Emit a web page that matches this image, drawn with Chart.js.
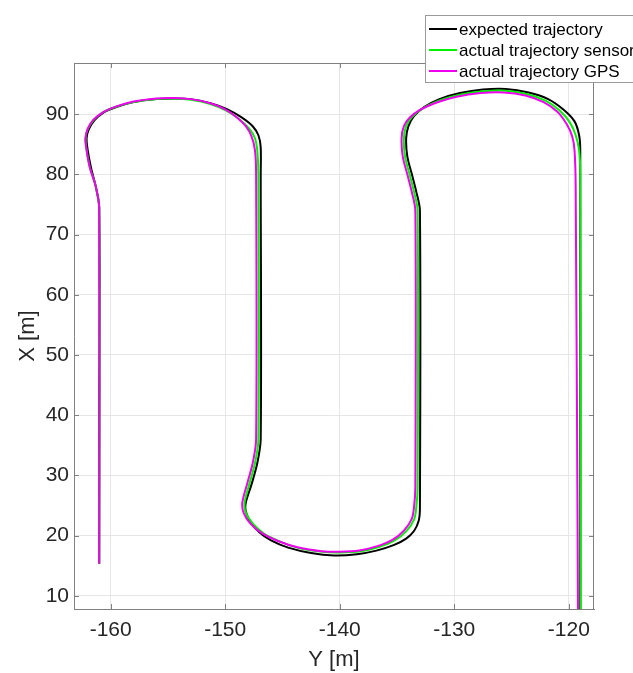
<!DOCTYPE html>
<html>
<head>
<meta charset="utf-8">
<script src="https://cdn.jsdelivr.net/npm/chart.js@4.4.1/dist/chart.umd.min.js"></script>
<style>
  html, body { margin: 0; padding: 0; background: #fff; }
  canvas { display: block; }
</style>
</head>
<body>
<canvas id="trajectory" width="633" height="673"></canvas>
<script>
// legend entries and line colours
const seriesNames = ['expected trajectory', 'actual trajectory sensor', 'actual trajectory GPS'];
const seriesColors = ['#000000', '#00f000', '#f000f0'];

// tick labels (horizontal axis is Y [m], vertical axis is X [m])
const yMetreTicks = [-160, -150, -140, -130, -120];
const xMetreTicks = [10, 20, 30, 40, 50, 60, 70, 80, 90];

// expected trajectory
const expectedY = [-161.0, -161.0, -161.0, -161.3, -161.7, -162.0, -162.1, -161.9, -161.4, -160.6, -159.5, -158.0, -156.0, -154.5, -153.0, -151.3, -149.8, -148.6, -147.6, -147.1, -146.9, -146.9, -146.9, -147.2, -147.7, -148.2, -148.2, -147.8, -147.0, -146.0, -144.5, -142.5, -140.5, -138.5, -136.8, -135.3, -134.2, -133.5, -133.1, -133.0, -133.0, -133.3, -133.7, -134.1, -134.2, -134.0, -133.5, -132.6, -131.3, -129.5, -127.5, -125.5, -123.5, -121.8, -120.5, -119.5, -119.1, -119.0, -119.0];
const expectedX = [15.3, 40, 74.5, 78, 81, 84, 86, 87.5, 89, 90.3, 91.2, 92.0, 92.5, 92.6, 92.5, 91.8, 90.8, 89.5, 88.0, 86.5, 84.5, 80, 36, 32, 28.5, 25.5, 24.0, 22.3, 20.5, 19.2, 18.0, 17.1, 16.7, 16.9, 17.5, 18.4, 19.5, 20.8, 22.5, 24.5, 74, 77, 80, 83, 86, 88, 89.7, 91.2, 92.5, 93.5, 94.1, 94.2, 93.6, 92.5, 90.8, 88.8, 86.5, 84, 7.8];

// actual trajectory from the sensor
const sensorY = [-161.0, -161.0, -161.3, -161.8, -162.1, -162.2, -162.0, -161.5, -160.7, -159.6, -158.0, -156.0, -154.5, -153.0, -151.3, -149.9, -148.8, -147.9, -147.4, -147.2, -147.1, -147.1, -147.4, -147.9, -148.3, -148.2, -147.6, -146.6, -145.2, -143.5, -141.5, -140.0, -138.2, -136.6, -135.2, -134.2, -133.5, -133.3, -133.2, -133.2, -133.5, -133.9, -134.3, -134.4, -134.2, -133.7, -132.8, -131.4, -129.6, -127.5, -125.5, -123.6, -122.0, -120.8, -119.9, -119.4, -119.1, -119.0, -118.95];
const sensorX = [15.3, 74.5, 78, 81, 84, 86, 87.5, 89, 90.3, 91.2, 92.0, 92.5, 92.6, 92.4, 91.7, 90.6, 89.2, 87.6, 86, 84, 80, 36, 32, 28.5, 25.5, 23.8, 22.0, 20.3, 19.0, 17.9, 17.3, 17.2, 17.4, 18.1, 19.2, 20.7, 22.7, 25, 28, 74, 77, 80, 83, 86, 88, 89.5, 90.9, 92.2, 93.2, 93.8, 93.9, 93.3, 92.2, 90.6, 88.6, 86.5, 84, 80, 7.8];

// actual trajectory from GPS
const gpsY = [-161.0, -161.0, -161.3, -161.8, -162.1, -162.2, -162.0, -161.5, -160.6, -159.5, -158.0, -156.0, -154.5, -153.0, -151.3, -150.0, -149.0, -148.2, -147.7, -147.4, -147.3, -147.3, -147.6, -148.1, -148.5, -148.4, -147.8, -146.8, -145.4, -143.6, -141.6, -140.0, -138.3, -136.8, -135.4, -134.4, -133.7, -133.5, -133.4, -133.4, -133.7, -134.1, -134.5, -134.6, -134.4, -133.9, -133.0, -131.6, -129.8, -127.7, -125.7, -123.8, -122.2, -121.0, -120.2, -119.7, -119.5, -119.4, -119.2];
const gpsX = [15.3, 74.5, 78, 81, 84, 86, 87.6, 89.1, 90.4, 91.3, 92.1, 92.6, 92.7, 92.5, 91.8, 90.8, 89.5, 88.0, 86.3, 84, 80, 36, 32, 28.5, 25.5, 23.8, 22.0, 20.4, 19.1, 18.0, 17.4, 17.3, 17.5, 18.2, 19.3, 20.8, 22.8, 25, 28, 74, 77, 80, 83, 86, 88, 89.4, 90.7, 91.9, 92.9, 93.5, 93.6, 93.1, 92.0, 90.4, 88.4, 86.3, 84, 78, 7.8];

const FONT = 'Liberation Sans, Arial, Helvetica, sans-serif';

function toPoints(ys, xs) {
  return ys.map((v, i) => ({ x: v, y: xs[i] }));
}

// box around the axes, inward tick marks and the legend
const frame = {
  id: 'frame',
  afterDraw(chart) {
    const { ctx, chartArea: a, scales } = chart;
    ctx.save();
    ctx.strokeStyle = '#808080';
    ctx.lineWidth = 1;
    ctx.beginPath();
    ctx.moveTo(a.left, a.top + 0.5);
    ctx.lineTo(a.right, a.top + 0.5);
    ctx.moveTo(a.right - 0.5, a.top);
    ctx.lineTo(a.right - 0.5, a.bottom);
    scales.x.ticks.forEach(t => {
      const px = Math.round(scales.x.getPixelForValue(t.value)) + 0.5;
      ctx.moveTo(px, a.bottom); ctx.lineTo(px, a.bottom - 5);
      ctx.moveTo(px, a.top); ctx.lineTo(px, a.top + 5);
    });
    scales.y.ticks.forEach(t => {
      const py = Math.round(scales.y.getPixelForValue(t.value)) + 0.5;
      ctx.moveTo(a.left, py); ctx.lineTo(a.left + 5, py);
      ctx.moveTo(a.right, py); ctx.lineTo(a.right - 5, py);
    });
    ctx.stroke();

    // legend
    const lx = 425.5, ly = 15.5;
    ctx.fillStyle = '#ffffff';
    ctx.fillRect(lx, ly, 260, 67);
    ctx.strokeStyle = '#9a9a9a';
    ctx.strokeRect(lx, ly, 260, 67);
    ctx.font = '17px ' + FONT;
    ctx.textBaseline = 'middle';
    ctx.textAlign = 'left';
    chart.data.datasets.forEach((ds, i) => {
      const ry = 29 + i * 21;
      ctx.strokeStyle = ds.borderColor;
      ctx.lineWidth = 2;
      ctx.beginPath();
      ctx.moveTo(429, ry);
      ctx.lineTo(457, ry);
      ctx.stroke();
      ctx.fillStyle = '#000000';
      ctx.fillText(ds.label, 459, ry + 1);
    });
    ctx.restore();
  }
};

const trajectoryCtx = document.getElementById('trajectory');
const trajectoryChart = new Chart(trajectoryCtx, {
  type: 'scatter',
  data: {
    datasets: [
      { label: seriesNames[0], data: toPoints(expectedY, expectedX), borderColor: seriesColors[0], showLine: true, order: 3 },
      { label: seriesNames[1], data: toPoints(sensorY, sensorX), borderColor: seriesColors[1], showLine: true, order: 2 },
      { label: seriesNames[2], data: toPoints(gpsY, gpsX), borderColor: seriesColors[2], showLine: true, order: 1 }
    ]
  },
  options: {
    responsive: false,
    animation: false,
    elements: {
      point: { radius: 0, hoverRadius: 0 },
      line: { borderWidth: 2, tension: 0.3, fill: false }
    },
    layout: { padding: { top: 63, right: 39, left: 0, bottom: 0 } },
    plugins: { legend: { display: false }, tooltip: { enabled: false } },
    scales: {
      x: {
        type: 'linear',
        min: -163.2,
        max: -117.8,
        afterFit: s => { s.height = 64; },
        afterBuildTicks: s => { s.ticks = yMetreTicks.map(v => ({ value: v })); },
        grid: { color: '#e6e6e6', drawTicks: false },
        border: { color: '#808080' },
        ticks: { padding: 9, color: '#262626', font: { family: FONT, size: 21 } },
        title: { display: true, text: 'Y [m]', color: '#262626', font: { family: FONT, size: 22 }, padding: { top: 0, bottom: 0 } }
      },
      y: {
        type: 'linear',
        min: 7.8,
        max: 98.5,
        afterFit: s => { s.width = 74; },
        afterBuildTicks: s => { s.ticks = xMetreTicks.map(v => ({ value: v })); },
        grid: { color: '#e6e6e6', drawTicks: false },
        border: { color: '#808080' },
        ticks: { padding: 5, color: '#262626', font: { family: FONT, size: 21 } },
        title: { display: true, text: 'X [m]', color: '#262626', font: { family: FONT, size: 22 }, padding: { top: 15, bottom: 0 } }
      }
    }
  },
  plugins: [frame]
});
</script>
</body>
</html>
